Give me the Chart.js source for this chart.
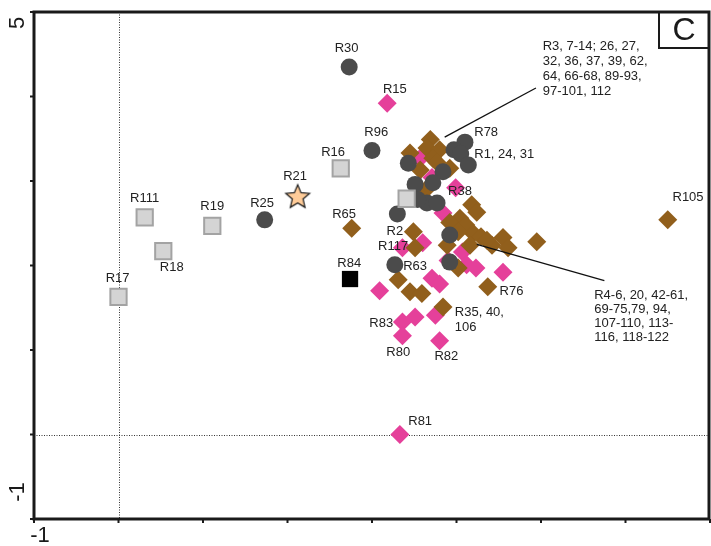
<!DOCTYPE html>
<html>
<head>
<meta charset="utf-8">
<script src="https://cdn.jsdelivr.net/npm/chart.js@4.4.1/dist/chart.umd.min.js"></script>
<style>
  html, body { margin: 0; padding: 0; background: #fff; }
  #wrap { width: 711px; height: 546px; }
</style>
</head>
<body>
<div id="wrap"><canvas id="pcaChart" width="711" height="546"></canvas></div>
<script>
// 坐标范围与刻度
const xRange = [-1, 7];
const yRange = [-1, 5];
const xTickLabels = ['-1'];
const yTickLabels = ['5', '-1'];

// 浅灰方块
const greySquarePts = [
  [0.31, 2.57], [1.11, 2.47], [0.53, 2.17], [0.0, 1.63], [2.63, 3.15], [3.41, 2.79]
];
// 星形 R21
const starPts = [[2.12, 2.82]];
// 黑色方块 R84
const blackSquarePts = [[2.74, 1.84]];
// 深灰圆点
const circlePts = [
  [2.73, 4.35], [3.00, 3.36], [1.73, 2.54], [4.10, 3.46], [3.97, 3.37], [4.05, 3.32],
  [4.14, 3.19], [3.84, 3.11], [3.72, 2.98], [3.51, 2.96], [3.43, 3.21], [3.65, 2.74],
  [3.77, 2.74], [3.54, 2.78], [3.30, 2.61], [3.92, 2.36], [3.27, 2.01], [3.92, 2.04]
];
// 粉色菱形
const pinkPts = [
  [3.18, 3.92], [3.57, 3.27], [3.71, 3.04], [3.99, 2.92], [3.84, 2.62], [3.60, 2.27],
  [3.36, 2.21], [4.07, 2.16], [3.90, 2.06], [4.12, 2.01], [4.23, 1.97], [4.55, 1.92],
  [3.71, 1.85], [3.80, 1.78], [3.09, 1.70], [3.51, 1.39], [3.75, 1.41], [3.36, 1.33],
  [3.36, 1.17], [3.80, 1.11], [3.33, 0.0]
];
// 棕色菱形
const brownPts = [
  [3.69, 3.49], [3.65, 3.39], [3.80, 3.37], [3.45, 3.33], [3.72, 3.27], [3.57, 3.13],
  [3.92, 3.15], [3.77, 3.22], [3.63, 2.89], [4.18, 2.72], [4.24, 2.63], [4.04, 2.56],
  [3.92, 2.51], [4.11, 2.48], [4.20, 2.38], [4.29, 2.34], [4.42, 2.24], [4.55, 2.33],
  [4.61, 2.21], [4.16, 2.24], [4.36, 2.30], [4.02, 2.40], [4.95, 2.28], [3.49, 2.40],
  [3.51, 2.21], [3.89, 2.24], [4.02, 1.97], [3.31, 1.83], [3.45, 1.69], [3.59, 1.67],
  [4.37, 1.75], [3.84, 1.51], [2.76, 2.44], [6.50, 2.54]
];

// 样品标签 [文字, x, y, 对齐]
const pointLabels = [
  ['R30', 2.70, 4.57, 'center'], ['R15', 3.27, 4.08, 'center'], ['R96', 3.05, 3.57, 'center'],
  ['R16', 2.54, 3.34, 'center'], ['R21', 2.09, 3.06, 'center'], ['R25', 1.70, 2.74, 'center'],
  ['R111', 0.31, 2.79, 'center'], ['R19', 1.11, 2.70, 'center'], ['R18', 0.63, 1.98, 'center'],
  ['R17', -0.01, 1.85, 'center'], ['R65', 2.67, 2.61, 'center'], ['R84', 2.73, 2.03, 'center'],
  ['R2', 3.27, 2.40, 'center'], ['R117', 3.25, 2.23, 'center'], ['R63', 3.51, 1.99, 'center'],
  ['R78', 4.21, 3.58, 'left'], ['R1, 24, 31', 4.21, 3.31, 'left'], ['R38', 3.90, 2.88, 'left'],
  ['R105', 6.74, 2.81, 'center'], ['R76', 4.51, 1.69, 'left'], ['R35, 40,', 3.98, 1.44, 'left'],
  ['106', 3.98, 1.27, 'left'], ['R83', 3.11, 1.32, 'center'], ['R80', 3.31, 0.97, 'center'],
  ['R82', 3.88, 0.92, 'center'], ['R81', 3.57, 0.15, 'center']
];
const groupTopLines = ['R3, 7-14; 26, 27,', '32, 36, 37, 39, 62,', '64, 66-68, 89-93,', '97-101, 112'];
const groupTopPos = [5.02, 4.59];
const groupBottomLines = ['R4-6, 20, 42-61,', '69-75,79, 94,', '107-110, 113-', '116, 118-122'];
const groupBottomPos = [5.63, 1.65];
const leaderLines = [
  [[3.86, 3.52], [4.94, 4.10]],
  [[4.24, 2.25], [5.75, 1.82]]
];
const panelLetter = 'C';

const toXY = arr => arr.map(p => ({ x: p[0], y: p[1] }));

// 星形点样式
function makeStar(size) {
  const c = document.createElement('canvas');
  c.width = size; c.height = size;
  const g = c.getContext('2d');
  const cx = size / 2, cy = size / 2 + 1, ro = size / 2 - 1.5, ri = ro * 0.45;
  g.beginPath();
  for (let i = 0; i < 10; i++) {
    const r = i % 2 === 0 ? ro : ri;
    const a = -Math.PI / 2 + i * Math.PI / 5;
    const px = cx + r * Math.cos(a), py = cy + r * Math.sin(a);
    if (i === 0) g.moveTo(px, py); else g.lineTo(px, py);
  }
  g.closePath();
  g.fillStyle = '#FFCC99';
  g.fill();
  g.lineWidth = 1.2;
  g.strokeStyle = '#1a1a1a';
  g.stroke();
  return c;
}

const frameAndLabels = {
  id: 'frameAndLabels',
  beforeDatasetsDraw(chart) {
    const { ctx, chartArea: a, scales: { x, y } } = chart;
    ctx.save();
    ctx.strokeStyle = '#333';
    ctx.lineWidth = 1;
    ctx.setLineDash([1, 1.5]);
    const x0 = Math.round(x.getPixelForValue(0)) + 0.5;
    const y0 = Math.round(y.getPixelForValue(0)) + 0.5;
    ctx.beginPath();
    ctx.moveTo(x0, a.top); ctx.lineTo(x0, a.bottom);
    ctx.moveTo(a.left, y0); ctx.lineTo(a.right, y0);
    ctx.stroke();
    ctx.restore();
  },
  afterDatasetsDraw(chart) {
    const { ctx, chartArea: a, scales: { x, y } } = chart;
    ctx.save();
    // 引线
    ctx.strokeStyle = '#111';
    ctx.lineWidth = 1.3;
    leaderLines.forEach(([p, q]) => {
      ctx.beginPath();
      ctx.moveTo(x.getPixelForValue(p[0]), y.getPixelForValue(p[1]));
      ctx.lineTo(x.getPixelForValue(q[0]), y.getPixelForValue(q[1]));
      ctx.stroke();
    });
    // 标签
    ctx.fillStyle = '#222';
    ctx.font = '13px "Liberation Sans", Arial, sans-serif';
    ctx.textBaseline = 'middle';
    pointLabels.forEach(([t, vx, vy, al]) => {
      ctx.textAlign = al;
      ctx.fillText(t, x.getPixelForValue(vx), y.getPixelForValue(vy));
    });
    ctx.textAlign = 'left';
    groupTopLines.forEach((t, i) => {
      ctx.fillText(t, x.getPixelForValue(groupTopPos[0]), y.getPixelForValue(groupTopPos[1]) + i * 15);
    });
    groupBottomLines.forEach((t, i) => {
      ctx.fillText(t, x.getPixelForValue(groupBottomPos[0]), y.getPixelForValue(groupBottomPos[1]) + i * 14);
    });
    // 边框
    ctx.strokeStyle = '#1a1a1a';
    ctx.lineWidth = 3;
    ctx.strokeRect(a.left, a.top, a.right - a.left - 1, a.bottom - a.top);
    // 刻度
    ctx.lineWidth = 2;
    ctx.beginPath();
    for (let v = xRange[0]; v <= xRange[1]; v++) {
      const px = x.getPixelForValue(v);
      ctx.moveTo(px, a.bottom); ctx.lineTo(px, a.bottom + 4);
    }
    for (let v = yRange[0]; v <= yRange[1]; v++) {
      const py = y.getPixelForValue(v);
      ctx.moveTo(a.left - 4, py); ctx.lineTo(a.left, py);
    }
    ctx.stroke();
    // 面板字母
    ctx.lineWidth = 2;
    ctx.strokeRect(a.right - 51, a.top, 50, 36);
    ctx.fillStyle = '#1a1a1a';
    ctx.font = '32px "Liberation Sans", Arial, sans-serif';
    ctx.textAlign = 'center';
    ctx.fillText(panelLetter, a.right - 26, a.top + 19);
    // 轴刻度文字
    ctx.font = '22px "Liberation Sans", Arial, sans-serif';
    ctx.fillText(xTickLabels[0], x.getPixelForValue(-1) + 6, a.bottom + 17);
    ctx.save();
    ctx.translate(18, y.getPixelForValue(5) + 11);
    ctx.rotate(-Math.PI / 2);
    ctx.fillText(yTickLabels[0], 0, 0);
    ctx.restore();
    ctx.save();
    ctx.translate(18, y.getPixelForValue(-1) - 27);
    ctx.rotate(-Math.PI / 2);
    ctx.fillText(yTickLabels[1], 0, 0);
    ctx.restore();
    ctx.restore();
  }
};

const diamond = (data, color) => ({
  data: toXY(data),
  pointStyle: 'rectRot',
  pointRadius: 9.5,
  backgroundColor: color,
  borderColor: color,
  borderWidth: 0
});

new Chart(document.getElementById('pcaChart'), {
  type: 'scatter',
  data: {
    datasets: [
      {
        data: toXY(starPts),
        pointStyle: makeStar(28),
        pointRadius: 14
      },
      {
        data: toXY(blackSquarePts),
        pointStyle: 'rect',
        pointRadius: 11.5,
        backgroundColor: '#000',
        borderColor: '#000',
        borderWidth: 0
      },
      {
        data: toXY(greySquarePts),
        pointStyle: 'rect',
        pointRadius: 11.5,
        backgroundColor: '#d4d4d4',
        borderColor: '#a3a3a3',
        borderWidth: 2
      },
      {
        data: toXY(circlePts),
        pointStyle: 'circle',
        pointRadius: 8.5,
        backgroundColor: '#4b4b4b',
        borderColor: '#4b4b4b',
        borderWidth: 0
      },
      diamond(brownPts, '#915f1c'),
      diamond(pinkPts, '#e5409a')
    ]
  },
  options: {
    responsive: false,
    animation: false,
    events: [],
    layout: { autoPadding: false, padding: { left: 34, top: 12, right: 1, bottom: 27 } },
    plugins: { legend: { display: false }, tooltip: { enabled: false } },
    scales: {
      x: { type: 'linear', min: xRange[0], max: xRange[1], display: false },
      y: { type: 'linear', min: yRange[0], max: yRange[1], display: false }
    }
  },
  plugins: [frameAndLabels]
});
</script>
</body>
</html>
